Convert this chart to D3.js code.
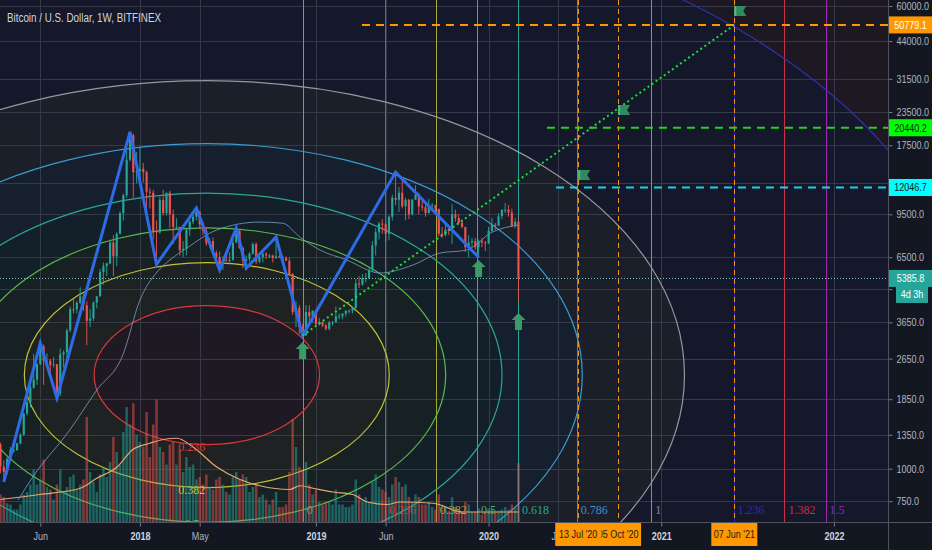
<!DOCTYPE html>
<html>
<head>
<meta charset="utf-8">
<script src="https://d3js.org/d3.v7.min.js"></script>
<style>
  html, body { margin: 0; padding: 0; background: #131722; overflow: hidden; }
  svg { display: block; }
  .narrow { font-family: "Liberation Sans", Arial, sans-serif; }
  .serif { font-family: "Liberation Serif", "DejaVu Serif", serif; }
</style>
</head>
<body>
<script>
// ---------- data ----------
var title = "Bitcoin / U.S. Dollar, 1W, BITFINEX";

// weekly candles, first bar is the week of 13 Mar 2017
var firstWeek = "2017-03-13";
var opens = [1240,1020,970,1090,1180,1180,1250,1350,1630,1800,2050,2200,2520,2950,2600,2600,2500,2520,1950,2750,
  2800,3400,4100,4100,4350,4600,4250,3700,3780,4350,4600,5700,6000,6150,7400,6550,8000,9600,11250,15400,
  19100,13800,13900,14200,13800,11600,11500,8200,8100,10800,9600,11500,9500,8500,8500,6900,7000,8300,8900,9300,
  9700,8700,8200,7350,7500,6750,6500,6150,6350,6300,6350,7400,8200,7050,6300,6400,6700,7300,6250,6500,
  6700,6600,6600,6450,6550,6500,6450,6300,5600,4000,4150,3500,3250,4000,3850,4050,3600,3650,3550,3450,
  3650,3650,3850,3850,3950,4050,4050,4150,5150,5100,5400,5400,5800,7200,8100,8750,8700,8000,9300,11000,
  10800,11500,10200,10800,9500,10800,11300,10200,10100,9600,10300,10300,9950,8000,7900,8300,8200,9500,9200,8800,
  8500,7100,7400,7500,7100,7500,7400,7350,8200,8650,8600,9350,9900,9900,9650,8550,8900];
var highs = [1260,1080,1110,1210,1220,1260,1370,1640,1860,2100,2760,2550,3040,3000,2780,2640,2680,2530,2900,2850,
  3450,4200,4500,4400,4980,4700,4400,4100,4400,4620,5860,6200,6200,7600,7900,8100,9750,11400,17200,19700,
  19400,16500,17300,15000,14000,12000,11800,9000,11100,11800,11500,11700,9900,9200,8500,7500,8400,9000,9750,10050,
  9800,8900,8500,7700,7750,6900,6850,6550,6800,6800,7600,8420,8250,7150,6600,6800,7400,7400,6600,6800,
  6800,6700,6650,7780,6650,6600,6550,6500,5650,4400,4250,3600,4250,4250,4050,4100,3800,3700,3600,3700,
  3700,4200,3950,3950,4050,4100,4200,5350,5500,5600,5650,5900,7500,8400,8900,9100,8800,9400,11300,13800,
  12100,13200,11000,10900,10900,12300,11500,10900,10600,10900,10500,10300,10000,8500,8800,8400,10400,9900,9500,9100,
  8500,7900,7700,7700,7600,7700,7500,8500,9200,8800,9600,9900,10500,10300,10000,9200,9150];
var lows = [960,890,950,1080,1150,1170,1240,1340,1600,1720,2030,2100,2500,2100,2450,2300,2450,1870,1900,2450,
  2650,3350,3950,3950,4300,4050,2980,3500,3700,4130,4580,5100,5500,6100,5500,6000,7950,9000,11000,15200,
  11000,12500,12800,12600,9000,10000,7600,6100,8000,9400,9400,8400,7300,8300,6600,6500,6600,7850,8700,9000,
  8400,7900,7200,7100,6700,6150,5800,5800,6250,6100,6300,7400,7000,5900,5900,6250,6650,6100,6150,6200,
  6400,6450,6200,6400,6450,6300,6300,5500,3900,3500,3300,3250,3250,3550,3650,3550,3550,3500,3400,3400,
  3550,3650,3750,3750,3850,3950,3950,4100,4950,5050,5200,5350,5700,6600,7600,8000,7450,7550,9000,10300,
  9700,10000,9000,9100,9400,10800,9500,9800,9300,9600,9950,9700,7800,7700,7800,7900,7300,8900,8700,8400,
  6800,6500,7100,6950,6450,7100,6850,7300,8100,8250,8550,9100,9600,9300,8500,8400,4400];
var closes = [1020,970,1090,1180,1180,1250,1350,1630,1800,2050,2200,2520,2950,2600,2600,2500,2520,1950,2750,2800,
  3400,4100,4100,4350,4600,4250,3700,3780,4350,4600,5700,6000,6150,7400,6550,8000,9600,11250,15400,19100,
  13800,13900,14200,13800,11600,11500,8200,8100,10800,9600,11500,9500,8500,8500,6900,7000,8300,8900,9300,9700,
  8700,8200,7350,7500,6750,6500,6150,6350,6300,6350,7400,8200,7050,6300,6400,6700,7300,6250,6500,6700,
  6600,6600,6450,6550,6500,6450,6300,5600,4000,4150,3500,3250,4000,3850,4050,3600,3650,3550,3450,3650,
  3650,3850,3850,3950,4050,4050,4150,5150,5100,5400,5400,5800,7200,8100,8750,8700,8000,9300,11000,10800,
  11500,10200,10800,9500,10800,11300,10200,10100,9600,10300,10300,9950,8000,7900,8300,8200,9500,9200,8800,8500,
  7100,7400,7500,7100,7500,7400,7350,8200,8650,8600,9350,9900,9900,9650,8550,8900,5385.8];
// volume, thousands of BTC
var volumes = [22,20,15,14,10,10,14,22,24,30,42,30,34,50,28,26,18,30,42,24,
  28,36,38,26,30,34,84,40,32,24,38,44,36,48,68,56,46,72,92,78,
  95,70,64,60,88,52,78,98,60,56,46,62,64,46,58,40,52,44,46,34,
  36,30,38,28,26,34,36,30,24,22,36,40,34,38,36,24,28,30,20,22,
  18,14,18,24,12,12,14,40,82,60,44,40,48,30,22,26,16,14,16,16,
  14,26,14,14,12,12,14,34,22,16,20,16,32,38,28,26,24,20,30,36,
  32,28,30,20,16,22,20,14,14,16,12,10,22,12,12,9,20,12,9,8,
  16,14,8,8,11,6,8,11,11,8,9,10,12,10,14,12,47];

// volume moving average (orange line)
var volMaDates = ["2017-03-13","2017-06-04","2017-08-28","2017-10-02","2017-11-14","2017-12-17","2018-01-22","2018-02-19",
  "2018-03-20","2018-04-23","2018-06-12","2018-07-31","2018-09-11","2018-11-13","2018-12-04","2019-01-01","2019-02-12",
  "2019-03-26","2019-04-25","2019-06-06","2019-07-03","2019-09-11","2019-11-13","2020-01-03","2020-03-09"];
var volMaValues = [18,22,27,35,44,58,63,66,67,60,44,34,29,26,29,27,24,22,16,14,16,15,8,8,8];

// 50-week moving average of price (thin blue-grey line)
var maDates = ["2017-04-19","2017-05-20","2017-08-06","2017-10-02","2017-11-26","2018-01-01","2018-02-06","2018-03-05",
  "2018-04-10","2018-06-12","2018-09-11","2018-10-29","2018-12-04","2019-01-16","2019-03-13","2019-05-22","2019-07-30",
  "2019-09-25","2019-11-20","2020-01-14","2020-03-09"];
var maValues = [757,929,1408,2005,2737,4450,5700,6340,7050,8270,8870,8780,7770,6920,6340,5650,6060,6740,6920,8120,8640];

// blue zigzag swing points
var zigDates = ["2017-03-20","2017-06-05","2017-07-10","2017-12-11","2018-02-05","2018-04-30","2018-06-18","2018-07-23",
  "2018-08-13","2018-10-15","2018-12-10","2019-06-24","2019-12-16"];
var zigPrices = [890,3040,1870,19700,6100,10050,5800,8420,5900,7780,3250,13800,6500];

// fib circles: centre and a point on the level-1 ring
var circleCenter = ["2018-05-22", 2290];
var circleEdge = ["2021-02-22", 31000];
var circleLevels = [0.236, 0.382, 0.5, 0.618, 0.786, 1, 1.618, 2.618];
var circleColors = ["#d63a3a", "#c2c236", "#5cb848", "#2aa890", "#3a9bd0", "#9598a1", "#3232a8", "#b02a2a"];

// fib time zones
var fibTimeStart = "2018-12-10";
var fibTimeEnd = "2020-12-14";
var fibTimeLevels = [0, 0.236, 0.382, 0.5, 0.618, 0.786, 1, 1.236, 1.382, 1.5];
var fibTimeColors = ["#8a8d96", "#d23c3c", "#a7a83c", "#4caf50", "#26a69a", "#3b8fd0", "#8a8d96", "#2b2bb4", "#c8304a", "#9c27b0"];

// horizontal levels
var levelPrices = [50779.1, 20440.2, 12046.7];
var levelStarts = ["2019-04-14", "2020-05-08", "2020-05-27"];
var levelColors = ["#ff9800", "#1fd21f", "#1ad3e6"];
var levelTagColors = ["#ff9800", "#00ff00", "#00ffff"];
var levelTextColors = ["#ffffff", "#131722", "#131722"];

// target dates
var targetDates = ["2020-07-13", "2020-10-05", "2021-06-07"];
var targetLabels = ["13 Jul '20", "05 Oct '20", "07 Jun '21"];

// dotted projection line
var trendDates = ["2018-12-10", "2021-06-07"];
var trendPrices = [3250, 50779.1];

// markers
var arrowDates = ["2018-12-10", "2019-12-16", "2020-03-09"];
var arrowPrices = [3070, 6340, 3970];
var flagDates = ["2020-07-13", "2020-10-05", "2021-06-07"];
var flagPrices = [12870, 22880, 54950];

var lastPrice = 5385.8;
var countdown = "4d 3h";

// axes (12500 and 4900 are gridlines whose labels sit under the price tags)
var priceTicks = [60000, 44000, 31500, 23500, 17500, 12500, 9500, 6500, 4900, 3650, 2650, 1850, 1350, 1000, 750];
var hiddenTicks = [12500, 4900];
var timeTickDates = ["2017-06-05", "2018-01-01", "2018-05-07", "2019-01-07", "2019-06-03", "2020-01-06", "2020-06-01", "2021-01-04", "2022-01-03"];
var timeTickLabels = ["Jun", "2018", "May", "2019", "Jun", "2020", "Jun", "2021", "2022"];

// ---------- drawing ----------
var W = 932, H = 550, plotW = 888, plotH = 522;
var parse = d3.utcParse("%Y-%m-%d");

var x = d3.scaleUtc().domain([parse("2017-03-12"), parse("2022-04-27")]).range([0, plotW]);
var y = d3.scaleLog().domain([624, 63300]).range([plotH, 0]);
var yVol = d3.scaleLinear().domain([0, 100]).range([plotH, plotH - 125]);

// squeeze Liberation Sans horizontally to the width of its narrow cut
function condense(sel) {
  sel.each(function() {
    var t = d3.select(this);
    var ax = +t.attr("x") || 0, ay = +t.attr("y") || 0;
    t.attr("transform", "translate(" + ax + "," + ay + ") scale(0.82,1) translate(" + (-ax) + "," + (-ay) + ")");
  });
}

var svg = d3.select("body").append("svg").attr("width", W).attr("height", H);
svg.append("rect").attr("width", W).attr("height", H).attr("fill", "#131722");

svg.append("clipPath").attr("id", "plotClip")
  .append("rect").attr("width", plotW).attr("height", plotH);
var plot = svg.append("g").attr("clip-path", "url(#plotClip)");

// fib circle ring fills (largest first)
var ccx = x(parse(circleCenter[0])), ccy = y(circleCenter[1]);
var rx1 = x(parse(circleEdge[0])) - ccx, ry1 = ccy - y(circleEdge[1]);
for (var k = circleLevels.length - 1; k >= 0; k--) {
  plot.append("ellipse").attr("cx", ccx).attr("cy", ccy)
    .attr("rx", rx1 * circleLevels[k]).attr("ry", ry1 * circleLevels[k])
    .attr("fill", "#131722");
  plot.append("ellipse").attr("cx", ccx).attr("cy", ccy)
    .attr("rx", rx1 * circleLevels[k]).attr("ry", ry1 * circleLevels[k])
    .attr("fill", circleColors[k]).attr("fill-opacity", 0.065);
}

// grid
plot.selectAll(".hgrid").data(priceTicks).enter().append("line")
  .attr("x1", 0).attr("x2", plotW)
  .attr("y1", function(d) { return Math.round(y(d)) + 0.5; })
  .attr("y2", function(d) { return Math.round(y(d)) + 0.5; })
  .attr("stroke", "#363a48").attr("stroke-width", 1);
plot.selectAll(".vgrid").data(timeTickDates).enter().append("line")
  .attr("y1", 0).attr("y2", plotH)
  .attr("x1", function(d) { return Math.round(x(parse(d))) + 0.5; })
  .attr("x2", function(d) { return Math.round(x(parse(d))) + 0.5; })
  .attr("stroke", "#363a48").attr("stroke-width", 1);

// fib time zones
var ft0 = x(parse(fibTimeStart)), ft1 = x(parse(fibTimeEnd));
fibTimeLevels.forEach(function(lv, i) {
  var xx = Math.round(ft0 + lv * (ft1 - ft0)) + 0.5;
  plot.append("line").attr("x1", xx).attr("x2", xx).attr("y1", 0).attr("y2", plotH)
    .attr("stroke", fibTimeColors[i]).attr("stroke-width", 1);
});

// fib circle outlines
circleLevels.forEach(function(lv, i) {
  if (lv > 2) return;
  plot.append("ellipse").attr("cx", ccx).attr("cy", ccy)
    .attr("rx", rx1 * lv).attr("ry", ry1 * lv)
    .attr("fill", "none").attr("stroke", circleColors[i]).attr("stroke-width", 1.2);
});

// bars
var t0 = parse(firstWeek);
var weekMs = 7 * 864e5;
var bars = closes.map(function(c, i) {
  return { date: new Date(+t0 + i * weekMs), o: opens[i], h: highs[i], l: lows[i], c: c, v: volumes[i] };
});
var step = x(new Date(+t0 + weekMs)) - x(t0);
var upCol = "#26a69a", downCol = "#ef5350";

// volume
plot.selectAll(".vol").data(bars).enter().append("rect")
  .attr("x", function(d) { return x(d.date) - step * 0.38; })
  .attr("width", step * 0.76)
  .attr("y", function(d) { return yVol(d.v); })
  .attr("height", function(d) { return plotH - yVol(d.v); })
  .attr("fill", function(d) { return d.c >= d.o ? upCol : downCol; })
  .attr("fill-opacity", 0.5);

// volume MA
plot.append("path")
  .datum(volMaDates.map(function(d, i) { return [x(parse(d)), yVol(volMaValues[i])]; }))
  .attr("d", d3.line().curve(d3.curveMonotoneX))
  .attr("fill", "none").attr("stroke", "#e9a56c").attr("stroke-width", 1.2);

// 50-week MA
plot.append("path")
  .datum(maDates.map(function(d, i) { return [x(parse(d)), y(maValues[i])]; }))
  .attr("d", d3.line().curve(d3.curveMonotoneX))
  .attr("fill", "none").attr("stroke", "#7f9cc4").attr("stroke-opacity", 0.8).attr("stroke-width", 1);

// candles
var candle = plot.selectAll(".candle").data(bars).enter().append("g");
candle.append("line")
  .attr("x1", function(d) { return x(d.date); }).attr("x2", function(d) { return x(d.date); })
  .attr("y1", function(d) { return y(d.h); }).attr("y2", function(d) { return y(d.l); })
  .attr("stroke", function(d) { return d.c >= d.o ? upCol : downCol; })
  .attr("stroke-width", 0.9);
candle.append("rect")
  .attr("x", function(d) { return x(d.date) - step * 0.32; })
  .attr("width", step * 0.64)
  .attr("y", function(d) { return y(Math.max(d.o, d.c)); })
  .attr("height", function(d) { return Math.max(1, Math.abs(y(d.o) - y(d.c))); })
  .attr("fill", function(d) { return d.c >= d.o ? upCol : downCol; });

// current price dotted line
plot.append("line").attr("x1", 0).attr("x2", plotW)
  .attr("y1", y(lastPrice)).attr("y2", y(lastPrice))
  .attr("stroke", "#6fd0c2").attr("stroke-width", 1).attr("stroke-dasharray", "1,2");

// zigzag
plot.append("path")
  .datum(zigDates.map(function(d, i) { return [x(parse(d)), y(zigPrices[i])]; }))
  .attr("d", d3.line())
  .attr("fill", "none").attr("stroke", "#2e6be6").attr("stroke-width", 3)
  .attr("stroke-linejoin", "miter");

// dotted projection
plot.append("path")
  .datum(trendDates.map(function(d, i) { return [x(parse(d)), y(trendPrices[i])]; }))
  .attr("d", d3.line())
  .attr("fill", "none").attr("stroke", "#1edc3c").attr("stroke-width", 2)
  .attr("stroke-dasharray", "2,3");

// target dates (vertical orange dashed)
targetDates.forEach(function(d) {
  var xx = Math.round(x(parse(d))) + 0.5;
  plot.append("line").attr("x1", xx).attr("x2", xx).attr("y1", 0).attr("y2", plotH)
    .attr("stroke", "#f0961a").attr("stroke-width", 1).attr("stroke-dasharray", "5,4");
});

// horizontal levels
levelPrices.forEach(function(p, i) {
  plot.append("line").attr("x1", x(parse(levelStarts[i]))).attr("x2", plotW)
    .attr("y1", y(p)).attr("y2", y(p))
    .attr("stroke", levelColors[i]).attr("stroke-width", 2).attr("stroke-dasharray", "8,6");
});

// arrows
arrowDates.forEach(function(d, i) {
  var tx = x(parse(d)), ty = y(arrowPrices[i]);
  plot.append("path")
    .attr("d", "M" + tx + "," + ty + " l7,7 h-3.5 v10 h-7 v-10 h-3.5 z")
    .attr("fill", "#3f9f6b").attr("fill-opacity", 0.95);
});

// flags
flagDates.forEach(function(d, i) {
  var fx = x(parse(d)), fy = y(flagPrices[i]);
  plot.append("path")
    .attr("d", "M" + fx + "," + (fy - 10) + " h12 l-3,5 l3,5 h-12 z")
    .attr("fill", "#2f8a5e");
  plot.append("rect").attr("x", fx).attr("y", fy - 10).attr("width", 2).attr("height", 10)
    .attr("fill", "#55b585");
});

// fib circle labels
circleLevels.forEach(function(lv, i) {
  if (lv > 0.5) return;
  plot.append("text").attr("class", "serif")
    .attr("x", ccx - 15).attr("y", ccy + ry1 * lv + 6)
    .attr("text-anchor", "middle").attr("font-size", 12)
    .attr("fill", circleColors[i]).text(String(lv));
});

// fib time labels
fibTimeLevels.forEach(function(lv, i) {
  var xx = ft0 + lv * (ft1 - ft0);
  plot.append("text").attr("class", "serif")
    .attr("x", xx + 4).attr("y", 514)
    .attr("font-size", 12).attr("fill", fibTimeColors[i]).text(String(lv));
});

// title
svg.append("text").attr("class", "narrow")
  .attr("x", 7).attr("y", 22).attr("font-size", 12.5).attr("fill", "#d1d4dc")
  .attr("textLength", 154).attr("lengthAdjust", "spacingAndGlyphs")
  .text(title);

// axes background + separators
svg.append("rect").attr("x", plotW).attr("y", 0).attr("width", W - plotW).attr("height", H).attr("fill", "#131722");
svg.append("rect").attr("x", 0).attr("y", plotH).attr("width", W).attr("height", H - plotH).attr("fill", "#131722");

var yAxis = svg.append("g").attr("class", "narrow")
  .attr("transform", "translate(" + (plotW + 0.5) + ",0)")
  .call(d3.axisRight(y).tickValues(priceTicks).tickSize(4).tickPadding(4)
    .tickFormat(function(d) { return hiddenTicks.indexOf(d) >= 0 ? "" : d3.format(".1f")(d); }));
yAxis.select(".domain").remove();
yAxis.selectAll("line").attr("stroke", "#787b86");
yAxis.selectAll("text").attr("font-size", 11).attr("fill", "#b2b5be").call(condense);

var xAxis = svg.append("g").attr("class", "narrow")
  .attr("transform", "translate(0," + (plotH + 0.5) + ")")
  .call(d3.axisBottom(x).tickValues(timeTickDates.map(parse)).tickSize(4).tickPadding(6)
    .tickFormat(function(d, i) { return timeTickLabels[i]; }));
xAxis.select(".domain").remove();
xAxis.selectAll("line").attr("stroke", "#787b86");
xAxis.selectAll("text").attr("font-size", 11)
  .attr("font-weight", function(d, i) { return /^\d{4}$/.test(timeTickLabels[i]) ? "bold" : "normal"; })
  .attr("fill", function(d, i) { return /^\d{4}$/.test(timeTickLabels[i]) ? "#d1d4dc" : "#b2b5be"; })
  .call(condense);

svg.append("line").attr("x1", plotW + 0.5).attr("x2", plotW + 0.5).attr("y1", 0).attr("y2", H)
  .attr("stroke", "#50535e");
svg.append("line").attr("x1", 0).attr("x2", W).attr("y1", plotH + 0.5).attr("y2", plotH + 0.5)
  .attr("stroke", "#50535e");

// price tags on the axis
function priceTag(p, bg, fg, txt, x0, w, dy) {
  var yy = y(p) + (dy || 0);
  svg.append("rect").attr("x", x0).attr("y", yy - 8.5).attr("width", w).attr("height", 17).attr("fill", bg);
  svg.append("text").attr("class", "narrow")
    .attr("x", x0 + w / 2).attr("y", yy + 4).attr("text-anchor", "middle")
    .attr("font-size", 11).attr("fill", fg).text(txt).call(condense);
}
levelPrices.forEach(function(p, i) {
  priceTag(p, levelTagColors[i], levelTextColors[i], d3.format(".1f")(p), plotW + 1, W - plotW - 1);
});
priceTag(lastPrice, "#26a69a", "#ffffff", d3.format(".1f")(lastPrice), plotW + 1, W - plotW - 1);
priceTag(lastPrice, "#26a69a", "#ffffff", countdown, plotW + 8, W - plotW - 12, 16);

// date tags on the time axis (later dates first so the July tag sits on top)
for (var j = targetDates.length - 1; j >= 0; j--) {
  var tx = x(parse(targetDates[j]));
  svg.append("rect").attr("x", tx - 23).attr("y", plotH + 1).attr("width", 46).attr("height", 23)
    .attr("fill", "#ff9800");
  svg.append("text").attr("class", "narrow")
    .attr("x", tx).attr("y", plotH + 16).attr("text-anchor", "middle")
    .attr("font-size", 11).attr("fill", "#1a1a1a").text(targetLabels[j]).call(condense);
}
</script>
</body>
</html>
